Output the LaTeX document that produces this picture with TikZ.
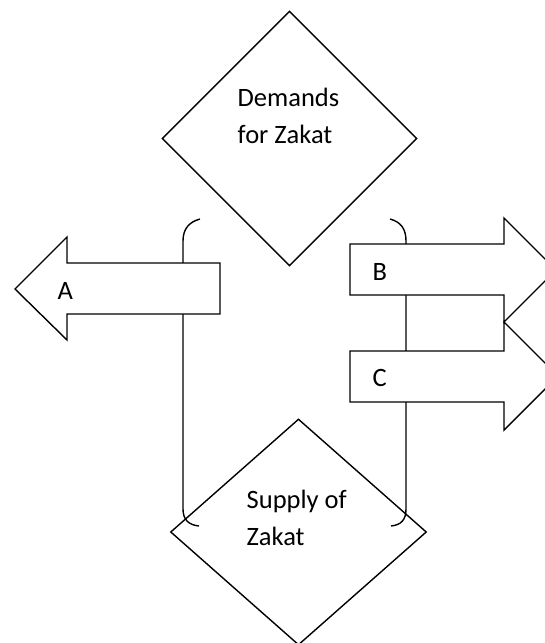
\documentclass[tikz,border=0pt]{standalone}
\usepackage{fontspec}
\setmainfont{Carlito}
\usepackage{tikz}
\usetikzlibrary{shapes.geometric}

\tikzset{
  flowbox/.style={draw=black, shape=diamond, minimum width=255pt, minimum height=255pt, inner sep=0pt},
  arrowbox/.style={draw=black, fill=white, line join=miter},
  bracket/.style={draw=black},
  boxtext/.style={font=\fontsize{26.5}{37}\selectfont, inner sep=0pt, align=left},
}

\begin{document}
\begin{tikzpicture}[x=1pt, y=-1pt, line width=1.4pt]
		\useasboundingbox (0,0) rectangle (545,643);
		\clip (0,0) rectangle (545,643);
		% diamonds
		\node[flowbox] (demand) at (289.5,138.5) {};
		\node[flowbox, minimum width=256pt, minimum height=226pt] (supply) at (298.5,532) {};
		\node[boxtext, anchor=base west] (demandtxt) at (237,143) {Demands\\for Zakat};
		\node[boxtext, anchor=base west] (supplytxt) at (246,545) {Supply of\\Zakat};
		% bracket ends
		\coordinate (ltop) at (200,219);
		\coordinate (lbot) at (199,526);
		\coordinate (rtop) at (390,219);
		\coordinate (rbot) at (391,526);
		\draw[bracket] (ltop) .. controls (189,222) and (183,229) .. (183,241) -- (183,509) .. controls (183,520) and (189,525) .. (lbot);
		\draw[bracket] (rtop) .. controls (401,222) and (406,229) .. (406,241) -- (406,509) .. controls (406,520) and (401,525) .. (rbot);
		% arrows
		\draw[arrowbox] (220,263) -- (67,263) -- (67,237) -- (15,289) -- (67,340) -- (67,314) -- (220,314) -- cycle;
		\draw[arrowbox] (350,244) -- (504,244) -- (504,218) -- (556,270) -- (504,322) -- (504,295) -- (350,295) -- cycle;
		\draw[arrowbox] (350,351) -- (504,351) -- (504,322) -- (558,376) -- (504,430) -- (504,402) -- (350,402) -- cycle;
		\node[boxtext, anchor=base west] (la) at (57,299) {A};
		\node[boxtext, anchor=base west] (lb) at (372,280) {B};
		\node[boxtext, anchor=base west] (lc) at (372,386) {C};
\end{tikzpicture}
\end{document}
